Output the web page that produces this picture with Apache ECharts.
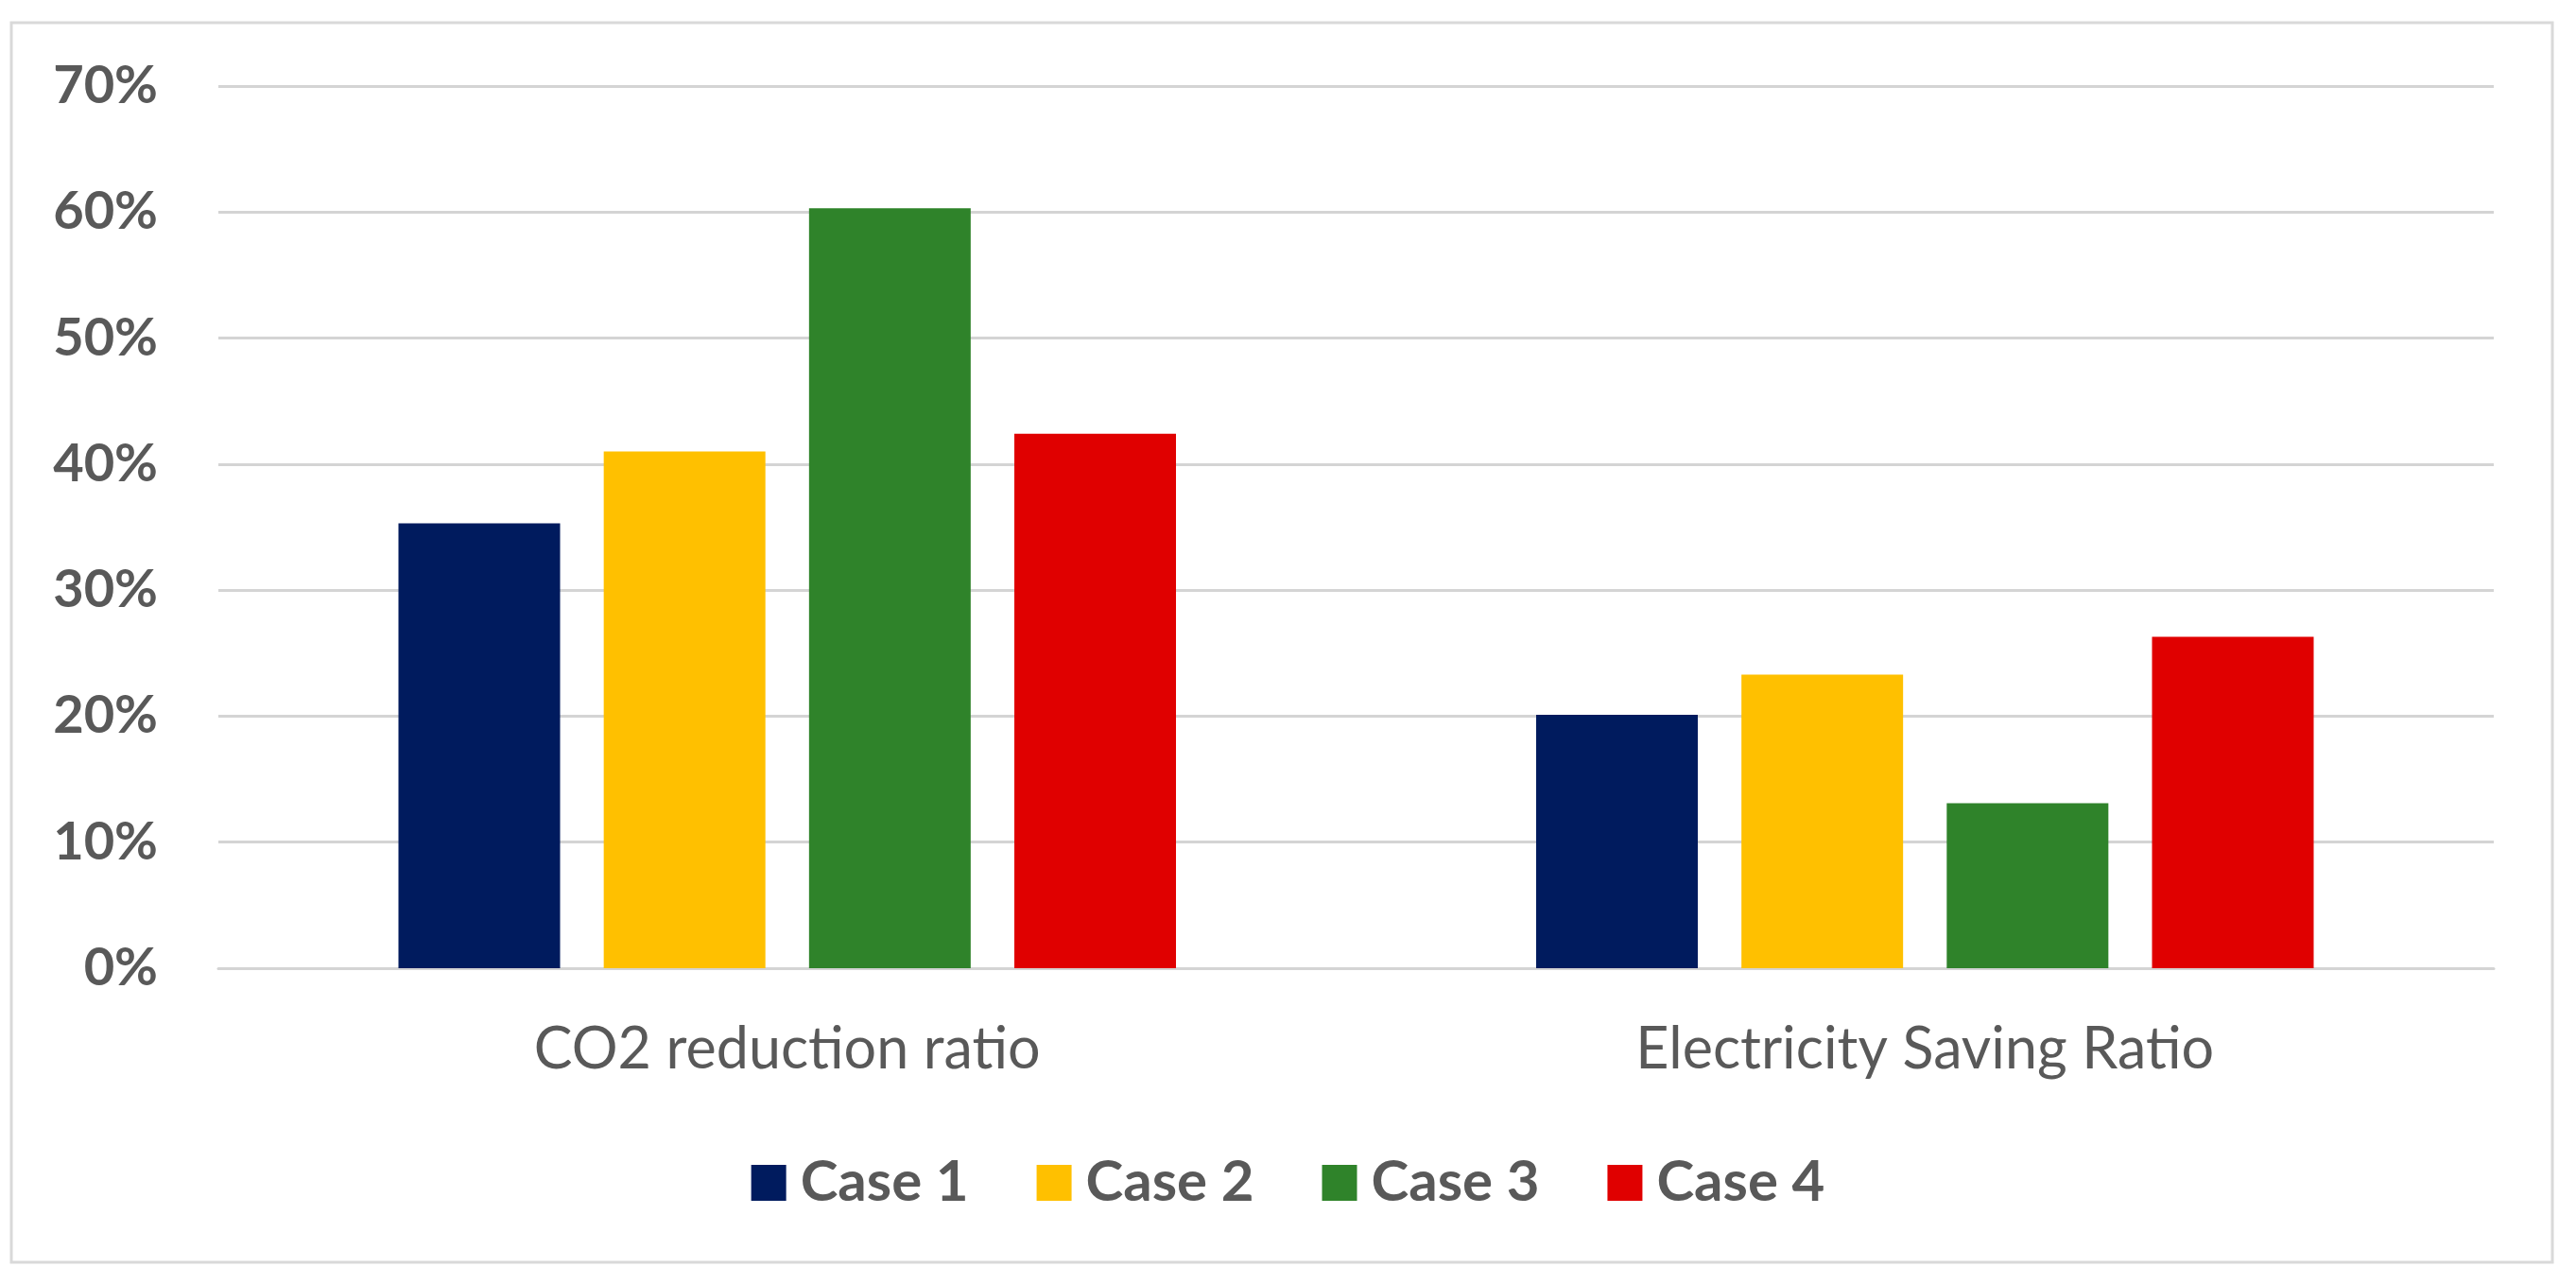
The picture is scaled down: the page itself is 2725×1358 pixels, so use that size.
<!DOCTYPE html>
<html>
<head>
<meta charset="utf-8">
<script src="https://cdn.jsdelivr.net/npm/echarts@6/dist/echarts.min.js"></script>
<style>
html,body{margin:0;padding:0;background:#fff;}
#c{width:2725px;height:1358px;}
</style>
</head>
<body>
<div id="c"></div>
<script>
const categories = ['CO2 reduction ratio', 'Electricity Saving Ratio'];
const seriesNames = ['Case 1', 'Case 2', 'Case 3', 'Case 4'];
const case1 = [35.3, 20.1];
const case2 = [41.0, 23.3];
const case3 = [60.3, 13.1];
const case4 = [42.4, 26.3];
const seriesValues = [case1, case2, case3, case4];
const colors = ['#001B5E', '#FFC000', '#2F832A', '#E00000'];
const yTicks = { min: 0, max: 70, interval: 10 };

const FONT = 'Lato, "Open Sans", sans-serif';
const chart = echarts.init(document.getElementById('c'), null, { renderer: 'canvas' });
chart.setOption({
  backgroundColor: '#ffffff',
  animation: false,
  color: colors,
  graphic: [{
    type: 'rect',
    shape: { x: 12, y: 24, width: 2688, height: 1311 },
    style: { fill: 'none', stroke: '#d9d9d9', lineWidth: 3 },
    silent: true
  }],
  grid: { left: 231, right: 87, top: 91, bottom: 334 },
  legend: {
    data: seriesNames,
    left: 'center',
    top: 1216,
    itemWidth: 37,
    itemHeight: 38,
    itemGap: 72,
    icon: 'rect',
    textStyle: { color: '#595959', fontSize: 60, fontWeight: 'bold', fontFamily: FONT, padding: [0, 0, 0, 10] }
  },
  xAxis: {
    type: 'category',
    data: categories,
    axisLine: { show: true, lineStyle: { color: '#d4d4d4', width: 3 } },
    axisTick: { show: false },
    axisLabel: { color: '#595959', fontSize: 61, fontFamily: FONT, margin: 56 }
  },
  yAxis: {
    type: 'value',
    min: yTicks.min,
    max: yTicks.max,
    interval: yTicks.interval,
    axisLine: { show: false },
    axisTick: { show: false },
    splitLine: { lineStyle: { color: '#d4d4d4', width: 3 } },
    axisLabel: { color: '#595959', fontSize: 56, fontWeight: 'bold', fontFamily: FONT, margin: 64, formatter: '{value}%' }
  },
  series: seriesNames.map((n, i) => ({
    name: n,
    type: 'bar',
    data: seriesValues[i],
    barWidth: 171,
    barGap: '27%',
    itemStyle: { color: colors[i] }
  }))
});
</script>
</body>
</html>
